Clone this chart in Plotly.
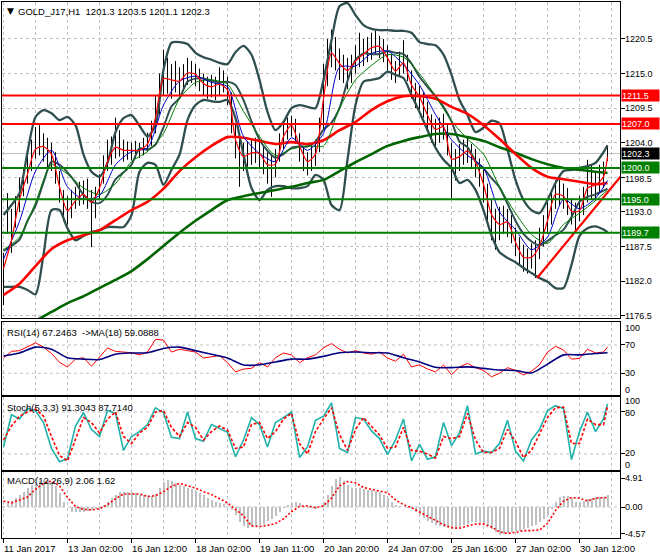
import plotly.graph_objects as go

W, H = 660, 560

# ---------------- data ----------------
time_labels = ["11 Jan 2017", "13 Jan 02:00", "16 Jan 12:00", "18 Jan 02:00", "19 Jan 11:00",
               "20 Jan 20:00", "24 Jan 07:00", "25 Jan 16:00", "27 Jan 02:00", "30 Jan 12:00"]
time_label_bars = [0, 16, 32, 48, 64, 80, 96, 112, 128, 144]

price_ticks = [1220.5, 1215.0, 1209.5, 1204.0, 1198.5, 1193.0, 1187.5, 1182.0, 1176.5]
red_levels = [1211.5, 1207.0]
green_levels = [1200.0, 1195.0, 1189.7]
last_price = 1202.3
trend_bars = [133.4, 154.25]
trend_prices = [1182.5, 1198.6]

rsi_ticks = [100, 70, 30, 0]
stoch_ticks = [100, 80, 20, 0]
macd_ticks = [4.91, 0.0, -4.57]

bar_high = [1186.5, 1196.0, 1193.5, 1195.5, 1198.5, 1200.0, 1202.0, 1204.5, 1206.5, 1206.8,
            1205.5, 1204.8, 1204.0, 1202.5, 1199.5, 1196.5, 1195.5, 1196.5, 1197.0, 1197.8,
            1198.0, 1198.3, 1196.5, 1197.0, 1199.0, 1202.0, 1204.5, 1205.0, 1208.0, 1206.0,
            1204.5, 1204.2, 1204.0, 1204.3, 1204.0, 1204.8, 1205.6, 1207.5, 1211.5, 1215.0,
            1218.8, 1217.5, 1216.5, 1217.0, 1216.0, 1216.5, 1217.5, 1217.0, 1216.5, 1215.8,
            1215.0, 1214.5, 1214.8, 1214.5, 1216.0, 1215.5, 1214.5, 1212.0, 1207.0, 1205.0,
            1204.0, 1204.2, 1204.5, 1204.8, 1204.2, 1203.5, 1202.5, 1202.0, 1203.0, 1205.5,
            1207.5, 1208.0, 1208.3, 1207.8, 1205.5, 1203.5, 1202.5, 1203.5, 1204.5, 1208.0,
            1216.5, 1220.5, 1222.0, 1220.8, 1219.0, 1218.0, 1217.5, 1218.0, 1219.5, 1221.5,
            1220.5, 1220.8, 1221.5, 1221.8, 1221.0, 1220.5, 1219.5, 1218.0, 1217.0, 1218.5,
            1220.3, 1218.0, 1215.5, 1213.5, 1213.0, 1212.0, 1210.5, 1208.5, 1207.8, 1208.0,
            1208.6, 1206.8, 1204.0, 1203.0, 1203.8, 1204.5, 1205.0, 1203.8, 1203.0, 1201.5,
            1200.0, 1197.5, 1195.0, 1193.5, 1193.8, 1194.0, 1193.5, 1192.5, 1190.5, 1189.0,
            1187.8, 1187.2, 1188.0, 1188.5, 1190.5, 1192.5, 1194.5, 1196.5, 1198.0, 1198.3,
            1197.5, 1196.8, 1195.2, 1194.5, 1195.5, 1197.0, 1201.3, 1200.5, 1199.5, 1200.5,
            1201.0, 1203.5]
bar_low = [1178.2, 1189.5, 1186.5, 1190.5, 1193.0, 1195.5, 1197.5, 1199.5, 1201.5, 1202.0,
           1201.0, 1200.0, 1199.5, 1197.5, 1194.5, 1191.5, 1191.0, 1192.0, 1193.5, 1194.0,
           1194.2, 1193.5, 1187.4, 1192.0, 1195.0, 1197.5, 1199.5, 1200.5, 1201.5, 1201.8,
           1201.0, 1201.3, 1201.2, 1201.5, 1201.6, 1202.0, 1202.6, 1203.5, 1205.5, 1208.5,
           1211.5, 1211.8, 1211.0, 1212.0, 1211.5, 1212.5, 1213.2, 1213.5, 1213.0, 1212.2,
           1211.5, 1211.0, 1211.2, 1210.8, 1211.5, 1212.0, 1210.0, 1205.5, 1201.5, 1197.0,
           1199.5, 1200.2, 1200.5, 1200.8, 1200.0, 1199.0, 1197.5, 1195.4, 1198.5, 1201.0,
           1203.0, 1204.5, 1205.0, 1203.8, 1201.0, 1199.5, 1198.8, 1199.5, 1200.3, 1202.5,
           1206.0, 1213.0, 1216.0, 1215.5, 1214.0, 1213.5, 1212.5, 1213.5, 1215.0, 1216.0,
           1216.2, 1216.8, 1217.2, 1218.0, 1217.5, 1216.8, 1215.5, 1214.0, 1213.5, 1214.5,
           1215.0, 1213.8, 1211.0, 1209.5, 1209.3, 1208.0, 1206.0, 1204.0, 1203.5, 1204.0,
           1204.5, 1202.0, 1195.2, 1198.0, 1199.5, 1200.5, 1200.8, 1199.8, 1198.5, 1197.0,
           1194.5, 1191.5, 1188.5, 1187.0, 1188.5, 1189.5, 1189.0, 1188.0, 1186.0, 1184.5,
           1183.5, 1183.2, 1184.0, 1182.5, 1185.5, 1187.5, 1189.5, 1191.0, 1193.5, 1194.0,
           1193.5, 1192.5, 1191.0, 1190.0, 1191.5, 1192.5, 1194.5, 1195.0, 1194.8, 1196.0,
           1196.8, 1201.1]

# every 2nd bar (+ last bar)
ma_fast_red = [1184.0, 1188.5, 1195.0, 1199.0, 1203.0, 1203.4, 1202.2, 1197.0, 1193.2, 1194.8,
               1195.8, 1194.5, 1196.8, 1201.0, 1203.3, 1202.8, 1202.8, 1202.8, 1203.8, 1208.0,
               1214.2, 1214.0, 1213.8, 1215.1, 1214.9, 1213.4, 1212.9, 1213.3, 1212.4, 1204.5,
               1201.8, 1202.4, 1202.3, 1200.5, 1200.6, 1205.0, 1206.8, 1203.5, 1201.0, 1202.2,
               1211.0, 1218.3, 1216.6, 1215.5, 1217.0, 1218.1, 1219.1, 1219.3, 1217.5, 1215.4,
               1216.7, 1213.2, 1211.3, 1208.4, 1206.1, 1206.6, 1201.4, 1201.8, 1202.7, 1200.9,
               1197.4, 1192.6, 1191.0, 1191.4, 1188.2, 1185.8, 1185.8, 1187.6, 1191.6, 1195.8,
               1195.5, 1193.1, 1193.2, 1196.8, 1197.3, 1198.6, 1201.8]
bb_upper = [1192.5, 1194.1, 1196.0, 1202.5, 1208.1, 1209.2, 1208.7, 1207.6, 1208.1, 1206.8,
            1202.1, 1199.4, 1198.6, 1200.8, 1205.7, 1207.9, 1208.4, 1206.7, 1205.0, 1206.8,
            1215.6, 1219.9, 1220.0, 1219.7, 1218.3, 1217.6, 1217.2, 1216.7, 1216.5, 1218.4,
            1219.4, 1218.0, 1214.0, 1208.9, 1206.0, 1207.3, 1209.5, 1210.0, 1209.7, 1209.5,
            1214.0, 1220.3, 1225.7, 1226.2, 1224.3, 1222.7, 1222.1, 1221.9, 1221.9, 1221.8,
            1221.8, 1221.5, 1220.0, 1219.7, 1219.5, 1218.0, 1214.8, 1210.8, 1208.4, 1205.7,
            1206.4, 1207.5, 1207.1, 1202.9, 1198.1, 1194.9, 1193.3, 1192.8, 1194.9, 1197.6,
            1199.5, 1199.7, 1200.0, 1200.3, 1200.8, 1202.5, 1203.6]
bb_middle = [1186.8, 1187.6, 1188.6, 1191.6, 1194.0, 1197.7, 1201.0, 1200.5, 1199.3, 1197.7,
             1195.7, 1194.6, 1194.4, 1195.7, 1198.2, 1199.3, 1200.5, 1203.1, 1202.9, 1203.7,
             1206.5, 1209.8, 1211.1, 1213.7, 1214.2, 1214.2, 1213.9, 1213.6, 1213.7, 1213.2,
             1210.8, 1207.4, 1204.5, 1202.7, 1201.6, 1202.2, 1203.2, 1203.4, 1203.4, 1204.2,
             1206.1, 1207.2, 1209.5, 1213.8, 1217.2, 1218.2, 1218.1, 1218.1, 1218.6, 1218.3,
             1218.1, 1216.6, 1214.5, 1212.9, 1211.4, 1209.7, 1207.4, 1204.2, 1203.3, 1201.1,
             1199.9, 1198.4, 1196.9, 1194.3, 1191.6, 1189.5, 1188.3, 1187.7, 1188.4, 1189.3,
             1190.2, 1192.2, 1194.6, 1195.4, 1195.8, 1196.4, 1196.7]
bb_lower = [1181.1, 1181.1, 1181.1, 1180.6, 1179.9, 1186.2, 1193.3, 1193.3, 1190.4, 1188.5,
            1189.2, 1189.8, 1190.1, 1190.6, 1190.6, 1190.6, 1192.5, 1199.4, 1200.8, 1200.5,
            1197.3, 1199.7, 1202.1, 1207.6, 1210.0, 1210.8, 1210.6, 1210.5, 1210.8, 1207.9,
            1202.1, 1196.8, 1194.9, 1196.5, 1197.1, 1197.1, 1196.8, 1196.8, 1197.1, 1198.9,
            1198.1, 1194.1, 1193.3, 1201.3, 1210.0, 1213.7, 1214.0, 1214.3, 1215.3, 1214.8,
            1214.3, 1211.6, 1208.9, 1206.0, 1203.2, 1201.3, 1200.0, 1197.6, 1198.1, 1196.5,
            1193.3, 1189.3, 1186.6, 1185.7, 1185.0, 1184.1, 1183.3, 1182.5, 1181.9, 1180.9,
            1180.9, 1184.6, 1189.2, 1190.4, 1190.7, 1190.2, 1189.8]

# every 4th bar (+ last bar)
ma_blue = [1185.5, 1191.5, 1199.5, 1202.8, 1197.0, 1195.0, 1195.6, 1200.5, 1202.6, 1203.2,
           1210.0, 1213.8, 1214.6, 1213.6, 1212.9, 1205.0, 1202.3, 1201.0, 1204.8, 1202.8,
           1205.5, 1216.0, 1216.2, 1218.2, 1218.6, 1216.4, 1213.2, 1208.5, 1204.5, 1202.0,
           1200.0, 1193.0, 1190.2, 1187.0, 1189.0, 1195.0, 1193.5, 1195.2, 1198.0]
ma_green = [1187.0, 1189.0, 1194.5, 1200.5, 1199.0, 1196.8, 1195.8, 1197.5, 1201.0, 1202.6,
            1205.5, 1211.0, 1213.6, 1214.0, 1213.3, 1209.0, 1205.0, 1202.0, 1203.0, 1203.5,
            1203.5, 1209.5, 1214.0, 1216.3, 1218.0, 1217.6, 1215.0, 1211.4, 1207.5, 1204.6,
            1202.2, 1197.0, 1192.8, 1189.4, 1188.0, 1191.0, 1192.8, 1194.8, 1196.5]
ma_slow_red = [1179.8, 1181.6, 1184.4, 1187.1, 1188.5, 1189.3, 1190.1, 1191.7, 1193.3, 1194.6,
               1196.7, 1199.5, 1201.7, 1203.5, 1204.9, 1204.8, 1204.3, 1203.8, 1204.1, 1203.8,
               1204.4, 1206.0, 1207.3, 1209.2, 1210.6, 1211.4, 1211.4, 1211.0, 1209.7, 1208.6,
               1206.8, 1204.6, 1202.2, 1200.0, 1198.6, 1198.2, 1197.8, 1197.4, 1197.6]
ma_slow_green = [1173.0, 1174.2, 1175.7, 1177.1, 1178.5, 1179.6, 1180.9, 1182.2, 1183.6, 1185.5,
                 1187.6, 1189.7, 1191.6, 1193.3, 1194.9, 1195.5, 1196.0, 1196.5, 1197.0, 1197.6,
                 1198.1, 1199.5, 1200.9, 1202.2, 1203.5, 1204.3, 1204.9, 1205.4, 1205.4, 1204.9,
                 1204.3, 1203.3, 1202.4, 1201.4, 1200.6, 1200.0, 1199.7, 1199.4, 1199.2]

# RSI(14) every 2nd bar, its MA(18) every 4th bar
rsi = [51.6, 61, 62, 68, 73, 67, 58, 45.5, 39, 50, 52, 40, 53, 65.8, 61, 60, 59, 56, 60, 78,
       77, 60, 64, 62, 60, 51.6, 53, 55, 45, 32, 36, 37, 45, 39, 52, 58.7, 56, 45, 52, 56,
       66, 72, 64, 58.7, 62, 58.7, 57, 60, 51.6, 47, 57, 39, 42, 36, 32, 41.8, 28, 39, 44, 38,
       34, 25, 30, 38, 34, 27.6, 33, 42, 60, 68, 63, 50, 51, 64, 58.7, 60, 67.2]
rsi_ma = [54.5, 58.7, 67, 64, 52, 50, 49.5, 57, 58.7, 59, 65, 67, 62, 57, 51.6, 41.8, 42, 46, 50, 50,
          54, 59, 60, 59, 58.7, 52, 46, 38.5, 38, 39, 37, 34.7, 34, 30.5, 43, 56, 56, 58, 59.1]

# Stochastic(5,3,3) every 2nd bar
stoch_k = [30, 76, 70, 85, 82, 65, 28, 9, 13, 60, 79, 55, 45, 82, 78, 25, 45, 52, 62, 86,
           79, 44, 42, 80, 42, 38, 62, 56, 51, 16, 40, 72, 62, 30, 65, 72, 80, 15, 30, 68,
           74, 93, 28, 22, 72, 70, 53, 42, 19, 40, 70, 10, 34, 12.5, 16, 65, 32, 50, 89, 20,
           24, 22, 35, 68, 24, 10, 40, 55, 82, 89, 85, 12, 52, 80, 52, 70, 91.3]
stoch_d = [40, 60, 74, 80, 84, 74, 45, 18, 10, 40, 72, 65, 50, 70, 80, 45, 35, 50, 58, 80,
           82, 58, 45, 65, 58, 40, 52, 60, 54, 28, 30, 62, 65, 42, 52, 70, 78, 35, 20, 52,
           70, 86, 48, 25, 55, 72, 60, 47, 28, 30, 58, 25, 24, 20, 14, 45, 42, 45, 78, 40,
           22, 22, 28, 55, 38, 15, 25, 48, 72, 86, 87, 35, 35, 70, 62, 62, 87.7]

# MACD(12,26,9): histogram per bar, signal every 2nd bar
macd_hist = [0.2, 0.6, 1.0, 1.5, 2.0, 2.6, 3.3, 3.8, 4.2, 4.4,
             4.5, 4.6, 4.3, 3.6, 2.4, 0.9, 0.0, -0.8, -0.9, -0.9,
             -0.8, -0.6, -0.5, -0.4, -0.2, 0.3, 0.9, 1.5, 2.0, 2.5,
             2.6, 2.6, 2.5, 2.3, 2.1, 2.0, 1.9, 1.9, 2.2, 3.2,
             4.3, 4.5, 4.4, 4.0, 3.7, 3.5, 3.3, 3.0, 2.7, 2.4,
             2.0, 1.6, 1.2, 0.8, 0.6, 0.5, 0.2, -0.5, -1.4, -2.5,
             -3.3, -3.5, -3.4, -3.3, -3.0, -2.8, -2.4, -2.0, -1.6, -0.9,
             -0.2, 0.3, 0.6, 0.9, 0.6, 0.1, -0.1, -0.2, -0.3, 0.0,
             0.9, 2.0, 3.6, 4.8, 5.0, 4.4, 3.7, 3.3, 3.3, 3.3,
             3.1, 2.9, 2.8, 2.7, 2.5, 2.1, 1.5, 0.8, 0.3, 0.1,
             0.0, -0.1, -0.3, -0.8, -1.3, -1.8, -2.3, -2.7, -3.0, -3.3,
             -3.4, -3.5, -3.7, -3.8, -3.5, -3.1, -2.8, -2.6, -2.6, -2.7,
             -2.8, -3.2, -3.8, -4.3, -4.7, -4.6, -4.4, -4.3, -4.1, -4.0,
             -3.8, -3.6, -3.3, -3.0, -2.6, -2.0, -1.4, -0.3, 0.9, 1.7,
             1.9, 1.8, 1.5, 0.9, 0.8, 1.0, 1.4, 1.6, 1.7, 1.7,
             1.7, 2.06]
macd_signal = [1.0, 0.7, 1.2, 1.7, 3.0, 4.0, 4.4, 3.6, 1.6, 0.1,
               -0.4, -0.5, -0.3, 0.4, 1.4, 2.2, 2.2, 2.2, 1.8, 1.9,
               2.6, 3.5, 4.0, 3.6, 3.2, 2.6, 2.1, 1.4, 0.7, -0.4,
               -1.5, -3.2, -3.3, -3.1, -2.8, -2.0, -0.8, 0.1, 0.2, -0.1,
               0.2, 1.5, 3.6, 4.3, 4.1, 3.3, 3.0, 2.8, 2.4, 1.2,
               0.4, -0.1, -0.8, -1.6, -2.3, -3.0, -3.5, -3.6, -3.2, -2.9,
               -2.9, -3.4, -4.2, -4.5, -4.3, -4.0, -4.0, -3.9, -2.8, -0.6,
               1.0, 1.6, 1.5, 1.0, 1.5, 1.6, 1.62]

# ---------------- positions of samples on the bar axis ----------------
n = len(bar_high)
idx = list(range(n))
idx2 = list(range(0, n - 1, 2)) + [n - 1]
idx4 = list(range(0, n - 3, 4)) + [n - 1]

FONT = "Liberation Sans, Arial, sans-serif"
FS = 9.5
FR = 9
GRID = "#c0c0c0"
GDASH = "3px,3px"
SLATE = "#2f4f4f"

fig = go.Figure()

# price bars (high-low)
bx, by = [], []
for i in idx:
    bx += [i, i, None]
    by += [bar_low[i], bar_high[i], None]
fig.add_trace(go.Scatter(x=bx, y=by, mode="lines", line=dict(color="black", width=1),
                         xaxis="x", yaxis="y", hoverinfo="skip"))

def line(xs, ys, color, width, ax="", dash=None, shape="spline"):
    fig.add_trace(go.Scatter(x=xs, y=ys, mode="lines",
                             line=dict(color=color, width=width, dash=dash, shape=shape,
                                       smoothing=0.7 if shape == "spline" else None),
                             xaxis="x" + ax, yaxis="y" + ax, hoverinfo="skip"))

line(idx2, bb_upper, SLATE, 2.3)
line(idx2, bb_middle, SLATE, 2.0)
line(idx2, bb_lower, SLATE, 2.3)
line(idx4, ma_slow_green, "#006400", 2.6)
line(idx4, ma_slow_red, "#ff0000", 2.6)
line(idx4, ma_green, "#008000", 1)
line(idx4, ma_blue, "#0000cd", 1)
line(idx2, ma_fast_red, "#ff0000", 1.2)
line(trend_bars, trend_prices, "#ff0000", 2.2, shape="linear")

# sub-panels
line(idx2, rsi, "#ff0000", 1, ax="2", shape="linear")
line(idx4, rsi_ma, "#000080", 1.6, ax="2")
line(idx2, stoch_k, "#20b2aa", 1.6, ax="3", shape="linear")
line(idx2, stoch_d, "#ff0000", 1.6, ax="3", dash="3px,2px", shape="linear")
fig.add_trace(go.Bar(x=idx, y=macd_hist, width=0.5, marker=dict(color="#c0c0c0", line=dict(width=0)),
                     xaxis="x4", yaxis="y4", hoverinfo="skip"))
line(idx2, macd_signal, "#ff0000", 1.6, ax="4", dash="2px,2px", shape="linear")

shapes = []
# bid line
shapes.append(dict(type="line", xref="x domain", x0=0, x1=1, yref="y", y0=last_price, y1=last_price,
                   line=dict(color="#c0c0c0", width=1), layer="below"))
for v in red_levels:
    shapes.append(dict(type="line", xref="x domain", x0=0, x1=1, yref="y", y0=v, y1=v,
                       line=dict(color="#ff0000", width=2), layer="above"))
for v in green_levels:
    shapes.append(dict(type="line", xref="x domain", x0=0, x1=1, yref="y", y0=v, y1=v,
                       line=dict(color="#008000", width=2), layer="above"))
# indicator levels
for ax, v in [("y2", 70), ("y2", 30), ("y3", 80), ("y3", 20), ("y4", 0)]:
    shapes.append(dict(type="line", xref="x domain", x0=0, x1=1, yref=ax, y0=v, y1=v,
                       line=dict(color=GRID, width=1, dash=GDASH), layer="below"))

ann = []
def txt(text, x, y, xref="paper", yref="paper", size=FS, color="black", **kw):
    d = dict(text=text, x=x, y=y, xref=xref, yref=yref, xanchor="left", yanchor="middle",
             showarrow=False, borderpad=0, font=dict(family=FONT, size=size, color=color))
    d.update(kw)
    ann.append(d)

txt("▼", 6 / W, 1 - 11 / H, size=9, font=dict(family="DejaVu Sans", size=9, color="black"))
txt("GOLD_J17,H1  1201.3 1203.5 1201.1 1202.3", 17 / W, 1 - 11 / H)
txt("RSI(14) 67.2463  ->MA(18) 59.0888", 6 / W, 1 - 332 / H)
txt("Stoch(5,3,3) 91.3043 87.7140", 6 / W, 1 - 407 / H)
txt("MACD(12,26,9) 2.06 1.62", 6 / W, 1 - 481 / H)

# right-hand scale labels
LX = 624 / W
for v in price_ticks:
    txt(f"{v:.1f}", LX, v, yref="y", size=FR, yshift=(-1.5 if v == 1198.5 else 0))
for v, sh in zip(rsi_ticks, [-4, 0, 0, 5]):
    txt(f"{v}", LX, v, yref="y2", size=FR, yshift=sh)
for v, sh in zip(stoch_ticks, [-3, -1.5, 1, 3]):
    txt(f"{v}", LX, v, yref="y3", size=FR, yshift=sh)
for v in macd_ticks:
    txt(f"{v:.2f}", LX, v, yref="y4", size=FR)

# price level boxes
for vals, col in [(red_levels, "#ff0000"), (green_levels, "#008000"), ([last_price], "black")]:
    for v in vals:
        txt(f"{v:.1f}", 621 / W, v, yref="y", size=FR, color="white", bgcolor=col,
            width=37, height=11, align="left")

# time labels
for b, t in zip(time_label_bars, time_labels):
    txt(t, b, 1 - 548 / H, xref="x4", xshift=-1)

xdom = [2 / W, 620 / W]
xr = [-0.375, 154.125]
major = list(range(0, n, 16))
minor = list(range(8, n + 2, 16))

def xaxis(anchor, bottom=False):
    return dict(domain=xdom, range=xr, anchor=anchor, showgrid=True, gridcolor=GRID, griddash=GDASH,
                gridwidth=1, tickvals=major, showticklabels=False,
                ticks="outside" if bottom else "", ticklen=4, tickcolor="black",
                minor=dict(tickvals=minor, showgrid=True, gridcolor=GRID, griddash=GDASH, ticks=""),
                showline=True, mirror=True, linecolor="black", linewidth=1, zeroline=False,
                fixedrange=True)

def yaxis(dom, rng, anchor, tv, grid=False):
    return dict(domain=[1 - dom[1] / H, 1 - dom[0] / H], range=rng, anchor=anchor, side="right",
                tickvals=tv, showticklabels=False, ticks="outside", ticklen=4, tickcolor="black",
                showgrid=grid, gridcolor=GRID, griddash=GDASH, gridwidth=1,
                showline=True, mirror=True, linecolor="black", linewidth=1, zeroline=False,
                fixedrange=True)

fig.update_layout(
    width=W, height=H, margin=dict(l=0, r=0, t=0, b=0),
    paper_bgcolor="white", plot_bgcolor="white", showlegend=False,
    shapes=shapes, annotations=ann, bargap=0,
    xaxis=xaxis("y"), xaxis2=xaxis("y2"), xaxis3=xaxis("y3"), xaxis4=xaxis("y4", bottom=True),
    yaxis=yaxis([2, 318], [1176.14, 1226.38], "x", price_ticks, grid=True),
    yaxis2=yaxis([322, 395], [-0.7, 102.5], "x2", [70, 30]),
    yaxis3=yaxis([397, 470], [-2.9, 101.4], "x3", [80, 20]),
    yaxis4=yaxis([472, 538], [-5.25, 5.93], "x4", macd_ticks),
)
fig.update_xaxes(matches="x")

fig.write_html("out.html", config={"displayModeBar": False, "staticPlot": True},
               post_script="document.body.style.margin='0';")
